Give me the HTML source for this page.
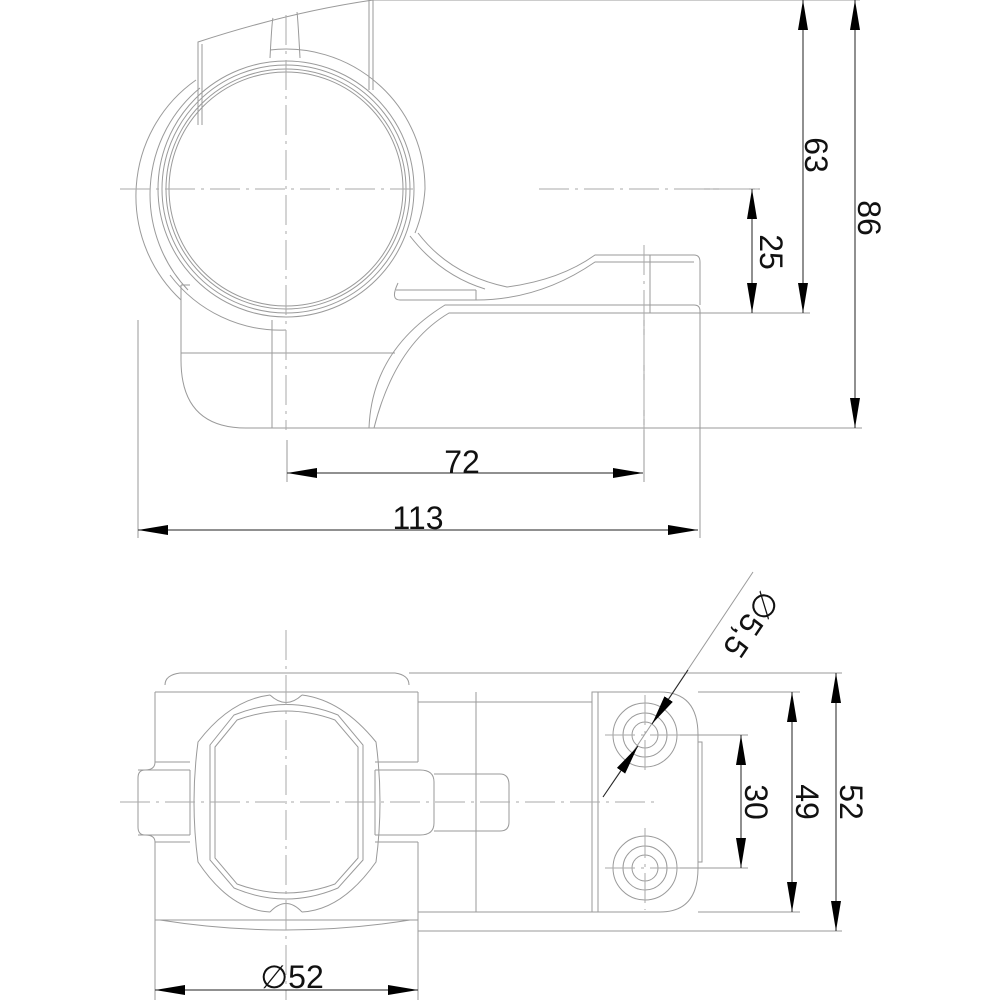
<!DOCTYPE html>
<html><head><meta charset="utf-8"><style>
html,body{margin:0;padding:0;background:#fff;}
svg{display:block;}
text{font-family:"Liberation Sans","DejaVu Sans",sans-serif;font-size:32px;fill:#111;}
</style></head><body>
<svg width="1000" height="1000" viewBox="0 0 1000 1000" xmlns="http://www.w3.org/2000/svg">
<defs>
<marker id="a" viewBox="0 0 30 10" refX="30" refY="5" markerWidth="30" markerHeight="10" markerUnits="userSpaceOnUse" orient="auto-start-reverse"><path d="M0,0 L30,5 L0,10 Z" fill="#000"/></marker>
</defs>
<g fill="none" stroke="#9a9a9a" stroke-width="1">
<!-- TOP VIEW -->
<path d="M198,125 L198,42 Q290,12 373,0 L373,90"/>
<path d="M202,125 L202,44"/>
<path d="M369,90 L369,0"/>
<path d="M270,58 Q272,20 273,18 M300,58 Q298,20 297,12"/>
<circle cx="286" cy="189" r="117"/>
<circle cx="286" cy="189" r="120"/>
<circle cx="286" cy="189" r="124"/>
<circle cx="286" cy="189" r="128"/>
<path d="M196,80 A139 141 0 0 0 181,300"/>
<path d="M200,88 A132 136 0 0 0 188,290"/>
<path d="M270,50 A139 139 0 0 1 425,189 A139 139 0 0 1 415,233"/>
<path d="M286,330 A139 141 0 0 1 170,275"/>
<path d="M181,285 L181,360 Q181,428 246,428 L369,428 Q372,350 445,305 L694,305 Q700,305 700,311 L700,313 L449,313 Q395,345 374,428"/>
<path d="M181,353 L395,353 M272,320 L272,428 M181,285 L190,285"/>
<path d="M418,233 Q450,275 507,287 Q560,280 595,255 L694,255 Q700,255 700,262 L700,305"/>
<path d="M410,236 Q440,275 485,289"/>
<path d="M398,283 Q390,300 400,300 L476,300 Q540,300 595,262 L694,262"/>
<path d="M396,290 L476,290 M476,290 L476,300 M650,255 L650,313"/>
<!-- BOTTOM VIEW -->
<path d="M165,685 Q165,675 180,673 L395,673 Q409,675 409,685"/>
<path d="M155,692 L418,692 M155,692 L155,762 Q155,770 145,770 Q138,770 138,778 L138,827 Q138,835 145,835 Q155,835 155,842 L155,920 L418,920 L418,842 M418,762 L418,692"/>
<path d="M160,920 Q286,940 410,920"/>
<path d="M155,762 L190,762 M155,842 L190,842 M375,762 L418,762 M375,842 L418,842"/>
<path d="M190,770 L190,835 M138,770 L190,770 M138,835 L190,835 M375,770 L375,835 M375,770 L420,770 Q434,770 434,782 L434,823 Q434,835 420,835 L375,835"/>
<path d="M434,774 L500,774 Q509,774 509,785 L509,822 Q509,831 500,831 L434,831"/>
<path d="M270,695 Q230,700 198,742 Q190,802 198,862 Q230,910 270,912 M302,695 Q342,700 376,742 Q384,802 376,862 Q342,910 302,912"/>
<path d="M270,695 Q286,710 302,695 M270,912 Q286,895 302,912"/>
<path d="M210,745 L234,715 Q286,694 338,715 L363,745 L363,860 L338,888 Q286,910 234,888 L210,860 Z"/>
<path d="M215,747 L237,720 Q286,702 335,720 L358,747 L358,858 L335,884 Q286,902 237,884 L215,858 Z"/>
<path d="M418,702 L592,702 M476,692 L476,912 M418,912 L592,912"/>
<path d="M592,692 L598,692 L598,912 L592,912 Z"/>
<path d="M598,692 L660,692 Q698,692 698,735 L698,868 Q698,912 660,912 L598,912"/>
<path d="M698,742 L702,742 L702,862 L698,862"/>
<circle cx="645" cy="735" r="32"/><circle cx="645" cy="735" r="22"/><circle cx="645" cy="735" r="13"/>
<circle cx="645" cy="868" r="32"/><circle cx="645" cy="868" r="22"/><circle cx="645" cy="868" r="13"/>
<!-- extension lines -->
<path d="M373,0 L860,0 M700,313 L810,313 M246,428 L862,428 M760,189 L700,189"/>
<path d="M138,320 L138,538 M700,313 L700,538 M287,440 L287,482 M644,320 L644,482"/>
<path d="M409,673 L842,673 M698,692 L800,692 M698,912 L800,912 M418,931 L842,931 M680,735 L748,735 M680,868 L748,868 M155,920 L155,1000 M418,920 L418,1000"/>
<path d="M603,797 L753,572"/>
</g>
<g fill="none" stroke="#aaa" stroke-width="1" stroke-dasharray="30,6,3,6">
<path d="M120,189 L413,189 M539,189 L760,189 M286,15 L286,430 M644,245 L644,430"/>
<path d="M120,802 L660,802 M286,630 L286,1000 M645,695 L645,775 M645,828 L645,910 M605,735 L685,735 M605,868 L685,868"/>
</g>
<g stroke="#222" stroke-width="1" fill="none">
<line x1="803" y1="0" x2="803" y2="313" marker-start="url(#a)" marker-end="url(#a)"/>
<line x1="855" y1="0" x2="855" y2="428" marker-start="url(#a)" marker-end="url(#a)"/>
<line x1="752" y1="189" x2="752" y2="313" marker-start="url(#a)" marker-end="url(#a)"/>
<line x1="287" y1="473" x2="643" y2="473" marker-start="url(#a)" marker-end="url(#a)"/>
<line x1="138" y1="530" x2="698" y2="530" marker-start="url(#a)" marker-end="url(#a)"/>
<line x1="741" y1="735" x2="741" y2="868" marker-start="url(#a)" marker-end="url(#a)"/>
<line x1="792" y1="692" x2="792" y2="912" marker-start="url(#a)" marker-end="url(#a)"/>
<line x1="836" y1="673" x2="836" y2="931" marker-start="url(#a)" marker-end="url(#a)"/>
<line x1="155" y1="990" x2="418" y2="990" marker-start="url(#a)" marker-end="url(#a)"/>
<line x1="688" y1="670" x2="652" y2="724" marker-end="url(#a)"/>
<line x1="603" y1="797" x2="638" y2="746" marker-end="url(#a)"/>
</g>
<text transform="translate(805,155) rotate(90)" text-anchor="middle">63</text>
<text transform="translate(858,218) rotate(90)" text-anchor="middle">86</text>
<text transform="translate(760,252) rotate(90)" text-anchor="middle">25</text>
<text x="462" y="473" text-anchor="middle">72</text>
<text x="418" y="529" text-anchor="middle">113</text>
<text transform="translate(745,802) rotate(90)" text-anchor="middle">30</text>
<text transform="translate(796,802) rotate(90)" text-anchor="middle">49</text>
<text transform="translate(840,802) rotate(90)" text-anchor="middle">52</text>
<text x="292" y="988" text-anchor="middle">∅52</text>
<text transform="translate(742,618) rotate(124)" text-anchor="middle">∅5,5</text>
</svg>
</body></html>
